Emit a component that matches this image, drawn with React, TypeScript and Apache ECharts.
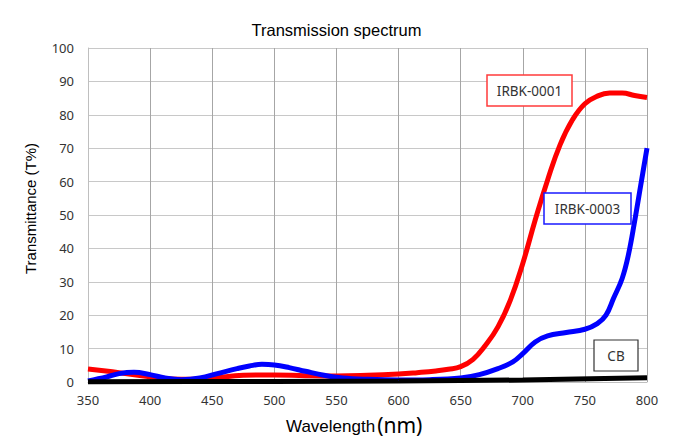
import React, { useEffect, useRef } from "react";
import * as echarts from "echarts";

const redWl = [350, 375, 400, 425, 450, 475, 500, 525, 550, 575, 600, 615, 630, 640, 650, 660, 670, 680, 690, 700, 710, 720, 730, 740, 750, 760, 770, 780, 790, 800];
const redT = [3.9, 2.8, 1.6, 0.8, 1.2, 2.0, 2.1, 1.9, 1.8, 2.0, 2.4, 2.8, 3.3, 3.8, 4.6, 6.8, 11.0, 16.5, 24.5, 35.5, 48.5, 60.5, 71, 78.5, 83.3, 85.6, 86.5, 86.5, 85.8, 85.2];

const blueWl = [350, 365, 375, 387, 400, 412, 425, 440, 455, 470, 480, 490, 500, 512, 525, 540, 555, 575, 600, 625, 650, 665, 680, 692, 700, 710, 720, 735, 750, 760, 767, 773, 780, 785, 790, 795, 800];
const blueT = [0.3, 1.5, 2.5, 2.9, 2.2, 1.2, 0.7, 1.2, 2.6, 4.0, 4.8, 5.3, 5.1, 4.3, 3.2, 2.0, 1.2, 0.8, 0.6, 0.7, 1.2, 2.2, 4.0, 6.0, 8.5, 12, 13.8, 14.8, 15.8, 17.5, 20, 25, 31, 38, 48, 59, 70];

const cbWl = [350, 500, 600, 700, 800];
const cbT = [0.1, 0.15, 0.3, 0.6, 1.3];

const xTicks = { min: 350, max: 800, interval: 50 };
const yTicks = { min: 0, max: 100, interval: 10 };

const FONT = "'Noto Sans', sans-serif";
const SANS = "'Liberation Sans', Arial, sans-serif";

const zip = (a: number[], b: number[]) => a.map((v, i) => [v, b[i]]);

export default function App() {
  const ref = useRef<HTMLDivElement>(null);
  useEffect(() => {
    if (!ref.current) return;
    const chart = echarts.init(ref.current, undefined, { renderer: "svg" });
    chart.setOption({
      animation: false,
      backgroundColor: "#fff",
      textStyle: { fontFamily: FONT },
      title: {
        text: "Transmission spectrum",
        left: "center",
        top: 16,
        textStyle: { fontFamily: SANS, fontSize: 16.5, fontWeight: "normal", color: "#000" },
      },
      grid: { left: 88, right: 26, top: 48, bottom: 61, containLabel: false },
      xAxis: {
        type: "value",
        min: xTicks.min,
        max: xTicks.max,
        interval: xTicks.interval,
        axisLine: { show: true, lineStyle: { color: "#bfbfbf" } },
        axisTick: { show: false },
        axisLabel: { color: "#333", fontSize: 13, margin: 11, fontFamily: FONT },
        splitLine: { show: true, lineStyle: { color: "#a6a6a6", width: 1 } },
      },
      yAxis: {
        type: "value",
        min: yTicks.min,
        max: yTicks.max,
        interval: yTicks.interval,
        axisLine: { show: true, lineStyle: { color: "#bfbfbf" } },
        axisTick: { show: false },
        axisLabel: { color: "#333", fontSize: 13, margin: 14, fontFamily: FONT },
        splitLine: { show: true, lineStyle: { color: "#c8c8c8", width: 1 } },
      },
      series: [
        {
          name: "IRBK-0001",
          type: "line",
          data: zip(redWl, redT),
          smooth: 0.45,
          showSymbol: false,
          clip: false,
          lineStyle: { color: "#ff0000", width: 5 },
          z: 2,
        },
        {
          name: "IRBK-0003",
          type: "line",
          data: zip(blueWl, blueT),
          smooth: 0.4,
          showSymbol: false,
          clip: false,
          lineStyle: { color: "#0000ff", width: 5 },
          z: 3,
        },
        {
          name: "CB",
          type: "line",
          data: zip(cbWl, cbT),
          smooth: 0.3,
          showSymbol: false,
          clip: false,
          lineStyle: { color: "#000000", width: 5 },
          z: 4,
        },
      ],
      graphic: [
        {
          type: "text",
          x: 30,
          y: 208.5,
          rotation: Math.PI / 2,
          style: {
            text: "Transmittance (T%)",
            fontSize: 15,
            fontFamily: SANS,
            fill: "#000",
            align: "center",
            verticalAlign: "middle",
          },
        },
        {
          type: "text",
          left: 286,
          top: 414,
          style: {
            text: "{a|Wavelength}{b|(nm)}",
            rich: {
              a: { fontSize: 17, fontFamily: SANS, fill: "#000", verticalAlign: "bottom" },
              b: { fontSize: 21, fontFamily: FONT, fill: "#000", padding: [0, 0, 0, 2] },
            },
          },
        },
        {
          type: "rect",
          shape: { x: 487, y: 75, width: 85, height: 31 },
          style: { fill: "#fff", stroke: "#ff3b3b", lineWidth: 1.5 },
          z: 10,
        },
        {
          type: "text",
          x: 529.5,
          y: 90.5,
          style: { text: "IRBK-0001", fontSize: 13.5, fontFamily: FONT, fill: "#333", align: "center", verticalAlign: "middle" },
          z: 11,
        },
        {
          type: "rect",
          shape: { x: 544, y: 193, width: 87, height: 31 },
          style: { fill: "#fff", stroke: "#1a1aff", lineWidth: 1.5 },
          z: 10,
        },
        {
          type: "text",
          x: 587.5,
          y: 209,
          style: { text: "IRBK-0003", fontSize: 13.5, fontFamily: FONT, fill: "#333", align: "center", verticalAlign: "middle" },
          z: 11,
        },
        {
          type: "rect",
          shape: { x: 594, y: 340, width: 44, height: 31 },
          style: { fill: "#fff", stroke: "#333", lineWidth: 1.2 },
          z: 10,
        },
        {
          type: "text",
          x: 616,
          y: 355.5,
          style: { text: "CB", fontSize: 13.5, fontFamily: FONT, fill: "#333", align: "center", verticalAlign: "middle" },
          z: 11,
        },
      ],
    });
    return () => chart.dispose();
  }, []);
  return <div ref={ref} style={{ width: 673, height: 443, position: "absolute", left: 0, top: 0 }} />;
}
